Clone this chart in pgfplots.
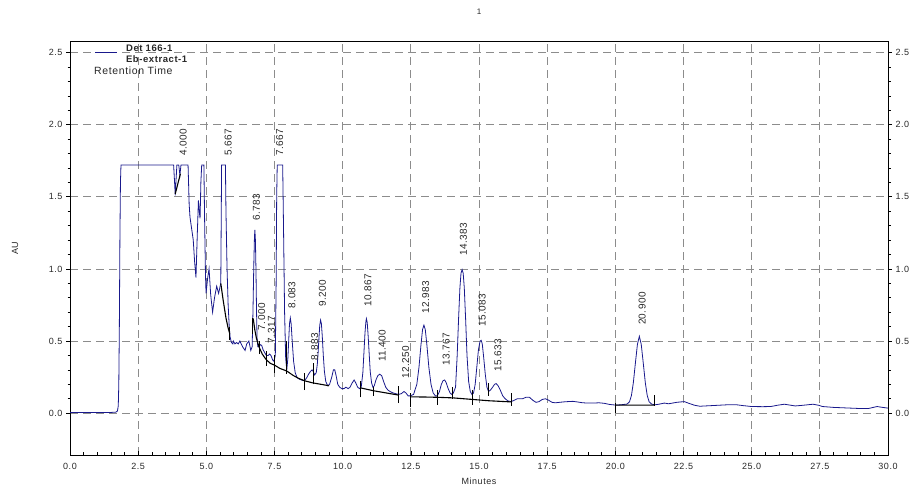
\documentclass[border=0pt]{standalone}
\usepackage{fontspec}
\setmainfont{Liberation Sans}
\newfontfamily\lsfont[LetterSpace=6]{Liberation Sans}
\newfontfamily\pkfont[LetterSpace=4]{Liberation Sans}
\usepackage{pgfplots}
\pgfplotsset{compat=1.18}
\definecolor{trace}{RGB}{25,25,140}
\definecolor{gridc}{RGB}{140,140,140}
\definecolor{txt}{RGB}{40,40,40}
\pgfplotsset{
  common/.style={
    at={(70pt,31pt)}, anchor=south west, scale only axis,
    width=818pt, height=414pt,
    xmin=0, xmax=30, ymin=-0.29, ymax=2.58,
    xtick={0,2.5,...,30}, ytick={0,0.5,1,1.5,2,2.5},
    minor x tick num=4, minor y tick num=4,
    /pgf/number format/fixed, /pgf/number format/fixed zerofill,
    /pgf/number format/precision=1, /pgf/number format/assume math mode=true,
    ticklabel style={font=\lsfont\fontsize{9}{10}\selectfont, text=txt},
    tick style={black, line width=0.6pt},
    major tick length=4pt, minor tick length=2.5pt,
  }
}
\begin{document}
\begin{tikzpicture}
\useasboundingbox (0,0) rectangle (913pt,486pt);
\begin{axis}[common,
  xtick pos=lower, ytick pos=left,
  xtick align=inside, ytick align=outside,
  xticklabel style={yshift=-4.5pt},
  grid=major,
  major grid style={gridc, dash pattern=on 8pt off 5pt, line width=0.8pt},
  axis line style={black, line width=0.8pt},
  clip mode=individual,
  unbounded coords=jump,
]
\addplot[trace, line width=0.8pt] coordinates {
(0,0.005) (0.5,0.004) (1.0,0.004) (1.5,0.005) (1.68,0.007) (1.74,0.015) (1.77,0.05) (1.79,0.2) (1.81,0.6) (1.83,1.2) (1.85,1.6) (1.87,1.72)
(3.80,1.72) (3.83,1.62) (3.86,1.51) (3.89,1.62) (3.92,1.72) (3.99,1.72) (4.03,1.65) (4.07,1.72) (4.33,1.72)
(4.37,1.45) (4.40,1.36) (4.46,1.28) (4.52,1.2) (4.57,1.05) (4.62,0.94) (4.67,1.25) (4.71,1.475) (4.74,1.40) (4.77,1.35) (4.80,1.6) (4.83,1.72)
(4.91,1.72) (4.94,1.3) (4.97,0.95) (4.99,0.83) (5.05,0.94) (5.10,1.0) (5.16,0.82) (5.23,0.70) (5.30,0.80) (5.38,0.88) (5.45,0.83) (5.53,0.90) (5.56,1.72)
(5.70,1.72) (5.72,1.4) (5.76,1.0) (5.80,0.75) (5.84,0.6) (5.87,0.53) (5.92,0.49) (5.97,0.48) (5.99,0.50) (6.05,0.48) (6.11,0.49) (6.17,0.48) (6.23,0.50) (6.33,0.46) (6.42,0.435) (6.48,0.48) (6.56,0.50) (6.63,0.435) (6.68,0.46)
(6.71,0.70) (6.74,1.02) (6.765,1.22) (6.78,1.27) (6.80,1.20) (6.82,1.0) (6.84,0.72) (6.86,0.52) (6.89,0.46)
(6.93,0.46) (6.98,0.475) (7.03,0.47) (7.08,0.44) (7.14,0.42) (7.20,0.40) (7.27,0.40) (7.32,0.41) (7.37,0.40) (7.43,0.37) (7.48,0.36) (7.53,0.40) (7.56,0.9) (7.58,1.5) (7.60,1.72)
(7.80,1.72) (7.83,1.3) (7.87,0.7) (7.91,0.38) (7.95,0.30) (7.99,0.38) (8.02,0.50) (8.05,0.62) (8.08,0.66) (8.11,0.62) (8.15,0.50) (8.20,0.36) (8.26,0.28) (8.33,0.245) (8.42,0.235) (8.52,0.228) (8.60,0.225)
(8.68,0.245) (8.75,0.27) (8.82,0.29) (8.88,0.30) (8.92,0.29) (8.97,0.265) (9.03,0.28) (9.07,0.34) (9.10,0.42) (9.13,0.52) (9.16,0.61) (9.19,0.645) (9.22,0.62) (9.25,0.54) (9.29,0.40) (9.33,0.29) (9.38,0.22) (9.45,0.19)
(9.52,0.20) (9.60,0.25) (9.66,0.30) (9.71,0.30) (9.76,0.26) (9.82,0.20) (9.89,0.18) (9.97,0.17) (10.05,0.17) (10.12,0.18) (10.20,0.17) (10.27,0.18) (10.35,0.21) (10.42,0.23) (10.48,0.21) (10.55,0.18) (10.62,0.17)
(10.68,0.18) (10.74,0.28) (10.78,0.42) (10.82,0.56) (10.85,0.63) (10.87,0.655) (10.90,0.63) (10.93,0.55) (10.97,0.42) (11.01,0.29) (11.06,0.21) (11.11,0.18) (11.16,0.19) (11.22,0.23) (11.29,0.26) (11.36,0.27) (11.43,0.26) (11.50,0.22) (11.58,0.18) (11.66,0.16) (11.74,0.15) (11.85,0.14) (11.95,0.135) (12.05,0.13) (12.15,0.135) (12.25,0.15) (12.32,0.14) (12.40,0.12) (12.48,0.12)
(12.60,0.13) (12.72,0.20) (12.80,0.32) (12.87,0.47) (12.93,0.58) (12.98,0.61) (13.03,0.58) (13.09,0.47) (13.16,0.32) (13.24,0.20) (13.32,0.14) (13.40,0.12) (13.47,0.12) (13.55,0.15) (13.62,0.20) (13.68,0.225) (13.74,0.23) (13.80,0.21) (13.87,0.17) (13.94,0.14) (14.00,0.13) (14.06,0.14)
(14.14,0.18) (14.20,0.40) (14.25,0.65) (14.30,0.87) (14.34,0.97) (14.38,0.995) (14.42,0.97) (14.46,0.87) (14.51,0.65) (14.56,0.40) (14.62,0.22) (14.68,0.15) (14.74,0.13)
(14.80,0.14) (14.86,0.20) (14.92,0.32) (14.98,0.44) (15.04,0.50) (15.08,0.505) (15.12,0.48) (15.17,0.39) (15.23,0.27) (15.29,0.18) (15.35,0.15) (15.42,0.16) (15.50,0.18) (15.57,0.20) (15.63,0.205) (15.70,0.19) (15.78,0.16) (15.87,0.12) (15.96,0.10) (16.06,0.085) (16.18,0.08)
(16.30,0.09) (16.40,0.10) (16.50,0.10) (16.60,0.10) (16.72,0.11) (16.85,0.11) (16.97,0.09) (17.09,0.075) (17.20,0.08) (17.32,0.095) (17.44,0.10) (17.55,0.09) (17.68,0.075) (17.80,0.072) (17.95,0.075) (18.10,0.078) (18.25,0.08) (18.44,0.082) (18.60,0.078) (18.80,0.072) (19.00,0.07) (19.20,0.07) (19.40,0.072) (19.60,0.068) (19.80,0.06) (20.02,0.056) (20.20,0.058)
(20.43,0.063) (20.52,0.079) (20.59,0.122) (20.66,0.21) (20.735,0.346) (20.81,0.477) (20.88,0.533) (20.95,0.477) (21.025,0.346) (21.10,0.21) (21.17,0.122) (21.24,0.079) (21.33,0.063) (21.45,0.058)
(21.60,0.062) (21.80,0.07) (21.95,0.065) (22.10,0.07) (22.25,0.075) (22.40,0.078) (22.53,0.08) (22.70,0.068) (22.9,0.055) (23.1,0.048) (23.5,0.052) (24.1,0.058) (24.45,0.058) (24.7,0.052) (25.0,0.046) (25.4,0.045) (25.7,0.046) (25.95,0.055) (26.2,0.062) (26.4,0.056) (26.6,0.05) (26.9,0.055) (27.25,0.062) (27.45,0.055) (27.6,0.046) (28.0,0.04) (28.5,0.036) (29.0,0.032) (29.3,0.033) (29.6,0.046) (29.8,0.04) (30.0,0.035)
};
% integration baselines
\addplot[black, line width=1.1pt] coordinates {
(3.86,1.52) (4.05,1.66) (4.05,nan)
(5.53,0.90) (5.62,0.78) (5.72,0.66) (5.80,0.59) (5.86,0.55) (5.86,nan)
(6.72,0.656) (6.78,0.575) (6.84,0.517) (6.93,0.46) (7.05,0.41) (7.20,0.37) (7.35,0.345) (7.51,0.332) (7.70,0.31) (7.94,0.293) (8.20,0.26) (8.40,0.24) (8.61,0.224) (8.90,0.21) (9.20,0.20) (9.50,0.19) (9.50,nan)
(10.66,0.175) (10.90,0.165) (11.14,0.155) (11.60,0.14) (12.06,0.125) (12.06,nan)
(12.49,0.113) (13.00,0.112) (13.47,0.11) (14.04,0.106) (14.77,0.095) (15.36,0.086) (16.18,0.078) (16.18,nan)
(20.02,0.056) (21.43,0.056)
};
% peak start/stop ticks
\addplot[black, line width=0.8pt] coordinates {
(5.86,0.51) (5.86,0.60) (5.86,nan)
(6.70,0.55) (6.70,0.66) (6.70,nan)
(6.93,0.41) (6.93,0.50) (6.93,nan)
(7.20,0.33) (7.20,0.43) (7.20,nan)
(7.51,0.28) (7.51,0.40) (7.51,nan)
(7.94,0.27) (7.94,0.50) (7.94,nan)
(8.61,0.16) (8.61,0.28) (8.61,nan)
(8.91,0.20) (8.91,0.35) (8.91,nan)
(10.66,0.11) (10.66,0.22) (10.66,nan)
(11.14,0.12) (11.14,0.18) (11.14,nan)
(12.06,0.07) (12.06,0.19) (12.06,nan)
(12.49,0.04) (12.49,0.14) (12.49,nan)
(13.47,0.06) (13.47,0.16) (13.47,nan)
(14.04,0.10) (14.04,0.18) (14.04,nan)
(14.77,0.06) (14.77,0.16) (14.77,nan)
(15.36,0.12) (15.36,0.21) (15.36,nan)
(16.18,0.05) (16.18,0.14) (16.18,nan)
(20.02,0.00) (20.02,0.07) (20.02,nan)
(21.43,0.05) (21.43,0.125)
};
% peak labels
\begin{scope}[every node/.style={rotate=90, anchor=west, inner sep=0pt, font=\pkfont\fontsize{10}{11}\selectfont, text=txt}]
\node at (axis cs:4.15,1.787) {4.000};
\node at (axis cs:5.80,1.787) {5.667};
\node at (axis cs:6.84,1.336) {6.783};
\node at (axis cs:7.03,0.575) {7.000};
\node at (axis cs:7.39,0.485) {7.317};
\node at (axis cs:7.69,1.787) {7.667};
\node at (axis cs:8.14,0.727) {8.083};
\node at (axis cs:8.97,0.367) {8.883};
\node at (axis cs:9.26,0.736) {9.200};
\node at (axis cs:10.93,0.736) {10.867};
\node at (axis cs:11.45,0.355) {11.400};
\node at (axis cs:12.31,0.24) {12.250};
\node at (axis cs:13.04,0.69) {12.983};
\node at (axis cs:13.80,0.33) {13.767};
\node at (axis cs:14.43,1.094) {14.383};
\node at (axis cs:15.12,0.60) {15.083};
\node at (axis cs:15.69,0.29) {15.633};
\node at (axis cs:20.98,0.61) {20.900};
\end{scope}
% legend block
\draw[trace, line width=0.8pt] (axis cs:0.92,2.5) -- (axis cs:1.72,2.5);
\node[anchor=west, inner sep=0pt, font=\lsfont\bfseries\fontsize{9.5}{10}\selectfont, text=txt] at (axis cs:2.05,2.528) {Det 166-1};
\node[anchor=west, inner sep=0pt, font=\lsfont\bfseries\fontsize{9.5}{10}\selectfont, text=txt] at (axis cs:2.05,2.452) {Eb-extract-1};
\node[anchor=west, inner sep=0pt, font=\lsfont\fontsize{10.5}{11}\selectfont, text=txt] at (axis cs:0.88,2.375) {Retention Time};
% title and axis labels
\node[inner sep=0pt, font=\fontsize{8}{9}\selectfont, text=txt] at ([yshift=29pt]rel axis cs:0.5,1) {1};
\node[rotate=90, inner sep=0pt, font=\lsfont\fontsize{9}{10}\selectfont, text=txt] at ([xshift=-55pt]axis cs:0,1.143) {AU};
\node[inner sep=0pt, font=\lsfont\fontsize{9}{10}\selectfont, text=txt] at ([yshift=-26pt]axis cs:15,-0.29) {Minutes};
\end{axis}
\begin{axis}[common,
  hide x axis, axis y line*=right,
  ytick align=outside,
  axis line style={black, line width=0.8pt},
]
\addplot[draw=none] coordinates {(0,0) (30,0)};
\end{axis}
\end{tikzpicture}
\end{document}
